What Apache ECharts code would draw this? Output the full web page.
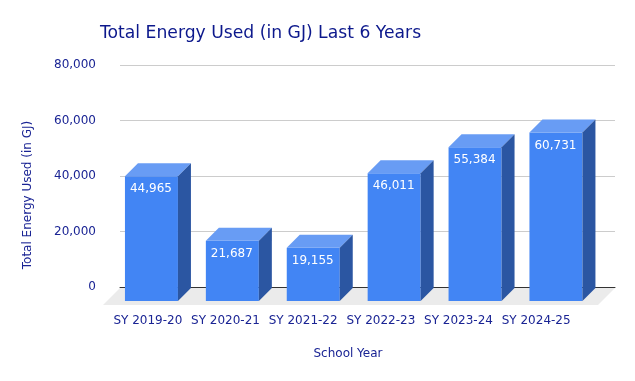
<!DOCTYPE html>
<html>
<head>
<meta charset="utf-8">
<script src="https://cdn.jsdelivr.net/npm/echarts@6/dist/echarts.min.js"></script>
<style>html,body{margin:0;padding:0;background:#fff;}#c{width:635px;height:381px;}</style>
</head>
<body>
<div id="c"></div>
<script>
var categories = ['SY 2019-20', 'SY 2020-21', 'SY 2021-22', 'SY 2022-23', 'SY 2023-24', 'SY 2024-25'];
var energyValues = [44965, 21687, 19155, 46011, 55384, 60731];
var yTicks = [0, 20000, 40000, 60000, 80000];

var FONT = 'DejaVu Sans';
var NAVY = '#1a2494';
var DEPTH = 13;

function fmt(v) { return Number(v).toLocaleString('en-US'); }

var chart = echarts.init(document.getElementById('c'), null, {renderer: 'canvas'});

var option = {
  animation: false,
  backgroundColor: '#ffffff',
  title: {
    text: 'Total Energy Used (in GJ) Last 6 Years',
    left: 95, top: 20,
    textStyle: {fontFamily: FONT, fontSize: 17.2, fontWeight: 'normal', color: '#0c188c'}
  },
  grid: [
    {left: 120, right: 20, top: 65, bottom: 94},      // back plane (gridlines)
    {left: 109, right: 60, top: 65, bottom: 94},      // label plane
    {left: 111, right: 38.6, top: 79, bottom: 80}     // bar front plane
  ],
  xAxis: [
    {type: 'category', gridIndex: 0, data: categories,
     axisLine: {show: true, lineStyle: {color: '#333', width: 1}},
     axisTick: {show: false}, axisLabel: {show: false}},
    {type: 'category', gridIndex: 1, data: categories,
     axisLine: {show: false}, axisTick: {show: false},
     axisLabel: {show: true, margin: 28, fontFamily: FONT, fontSize: 12, color: NAVY, interval: 0}},
    {type: 'category', gridIndex: 2, data: categories, show: false}
  ],
  yAxis: [
    {type: 'value', gridIndex: 0, min: yTicks[0], max: yTicks[yTicks.length - 1], interval: yTicks[1] - yTicks[0],
     axisLine: {show: false}, axisTick: {show: false},
     splitLine: {show: true, lineStyle: {color: '#cccccc', width: 1}},
     axisLabel: {margin: 24, fontFamily: FONT, fontSize: 12, color: NAVY, formatter: function (v) { return fmt(v); }}},
    {type: 'value', gridIndex: 1, show: false, min: 0, max: 80000},
    {type: 'value', gridIndex: 2, show: false, min: yTicks[0], max: yTicks[yTicks.length - 1]}
  ],
  graphic: [
    {type: 'text', x: 28, y: 195, rotation: Math.PI / 2,
     style: {text: 'Total Energy Used (in GJ)', align: 'center', verticalAlign: 'middle',
             fontFamily: FONT, fontSize: 12, fill: NAVY}},
    {type: 'text', x: 348, y: 354,
     style: {text: 'School Year', align: 'center', verticalAlign: 'middle',
             fontFamily: FONT, fontSize: 12, fill: NAVY}}
  ],
  series: [
    {
      type: 'custom', xAxisIndex: 0, yAxisIndex: 0, z: 1, silent: true,
      data: [[0, 0]],
      renderItem: function (params, api) {
        var cs = params.coordSys;
        var yb = cs.y + cs.height + 1;
        var d = 17;
        return {
          type: 'polygon',
          shape: {points: [[cs.x, yb], [cs.x + cs.width, yb], [cs.x + cs.width - d, yb + d], [cs.x - d, yb + d]]},
          style: {fill: '#ebebeb'}
        };
      }
    },
    {
      type: 'custom', xAxisIndex: 2, yAxisIndex: 2, z: 3, silent: true,
      data: energyValues.map(function (v, i) { return [i, v]; }),
      renderItem: function (params, api) {
        var idx = api.value(0), val = api.value(1);
        var p = api.coord([idx, val]);
        var p0 = api.coord([idx, 0]);
        var w = api.size([1, 0])[0] * 0.655;
        var x0 = p[0] - w / 2, x1 = p[0] + w / 2, yT = p[1], yB = p0[1];
        var d = DEPTH;
        return {
          type: 'group',
          children: [
            {type: 'rect', shape: {x: x0, y: yT, width: w, height: yB - yT}, style: {fill: '#4285f4'}},
            {type: 'polygon', shape: {points: [[x0, yT], [x1, yT], [x1 + d, yT - d], [x0 + d, yT - d]]}, style: {fill: '#689cf4'}},
            {type: 'polygon', shape: {points: [[x1, yT], [x1 + d, yT - d], [x1 + d, yB - d], [x1, yB]]}, style: {fill: '#2b56a2'}},
            {type: 'text', x: x0 + 5, y: yT + 13,
             style: {text: fmt(val), align: 'left', verticalAlign: 'middle', fontFamily: FONT, fontSize: 12, fill: '#ffffff'}}
          ]
        };
      }
    }
  ]
};
chart.setOption(option);
</script>
</body>
</html>
